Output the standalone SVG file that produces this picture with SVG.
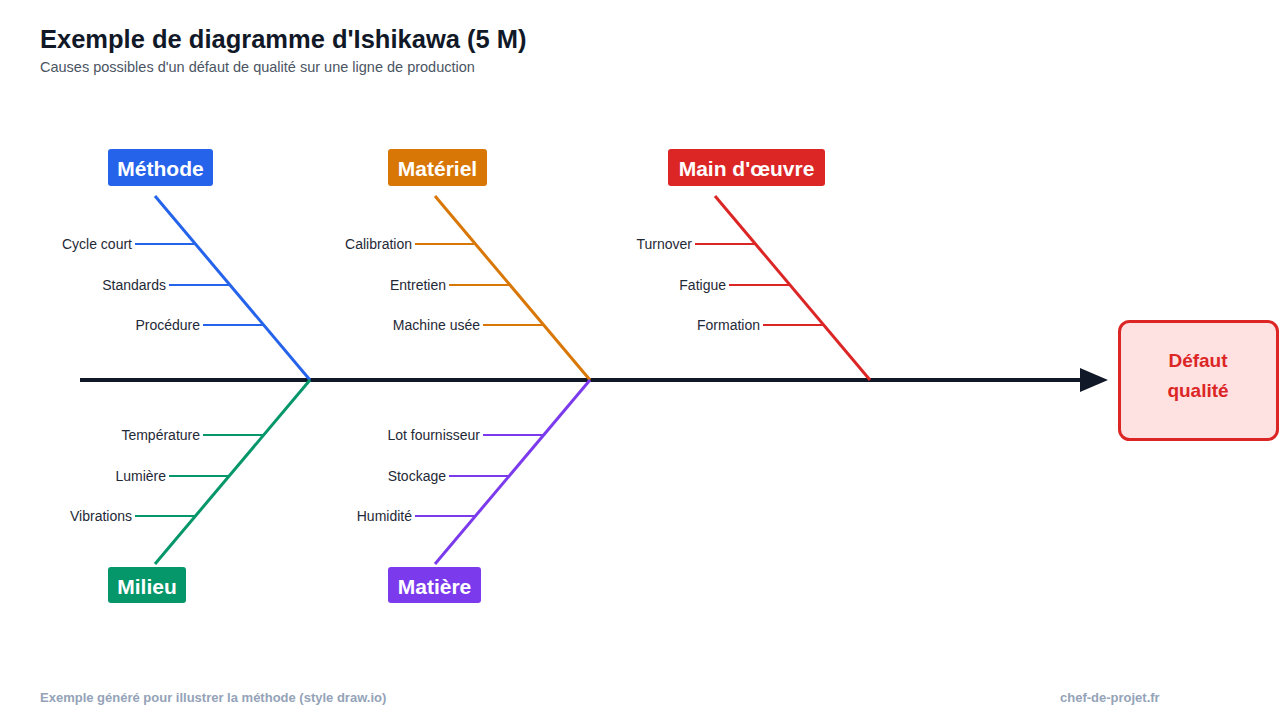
<svg xmlns="http://www.w3.org/2000/svg" width="1280" height="720" viewBox="0 0 1280 720">
<style>
text{font-family:"Liberation Sans",Arial,sans-serif}
.cat{font-size:21px;font-weight:bold;fill:#fff;text-anchor:middle}
.cause{font-size:14px;fill:#1f2937;text-anchor:end}
.bone{stroke-width:3;fill:none}
.tick{stroke-width:2}
</style>
<rect width="1280" height="720" fill="#fff"/>
<text x="40" y="48" font-size="25.5" font-weight="bold" fill="#111827">Exemple de diagramme d'Ishikawa (5 M)</text>
<text x="40" y="72" font-size="14.5" fill="#4b5563">Causes possibles d'un défaut de qualité sur une ligne de production</text>
<g id="connectors">
<line x1="80" y1="380" x2="1082" y2="380" stroke="#111827" stroke-width="4"/>
<polygon points="1080,368 1108,380 1080,392" fill="#111827"/>
<g stroke="#2563eb"><line class="bone" x1="155" y1="196" x2="310" y2="380"/><line class="tick" x1="135" y1="244" x2="195" y2="244"/><line class="tick" x1="169" y1="285" x2="230" y2="285"/><line class="tick" x1="203" y1="325" x2="264" y2="325"/></g>
<g stroke="#d97706"><line class="bone" x1="435" y1="196" x2="590" y2="380"/><line class="tick" x1="415" y1="244" x2="475" y2="244"/><line class="tick" x1="449" y1="285" x2="510" y2="285"/><line class="tick" x1="483" y1="325" x2="544" y2="325"/></g>
<g stroke="#dc2626"><line class="bone" x1="715" y1="196" x2="870" y2="380"/><line class="tick" x1="695" y1="244" x2="755" y2="244"/><line class="tick" x1="729" y1="285" x2="790" y2="285"/><line class="tick" x1="763" y1="325" x2="824" y2="325"/></g>
<g stroke="#059669"><line class="bone" x1="310" y1="380" x2="155" y2="564"/><line class="tick" x1="203" y1="435" x2="264" y2="435"/><line class="tick" x1="169" y1="476" x2="229" y2="476"/><line class="tick" x1="135" y1="516" x2="195" y2="516"/></g>
<g stroke="#7c3aed"><line class="bone" x1="590" y1="380" x2="435" y2="564"/><line class="tick" x1="483" y1="435" x2="544" y2="435"/><line class="tick" x1="449" y1="476" x2="509" y2="476"/><line class="tick" x1="415" y1="516" x2="475" y2="516"/></g>
</g>
<g id="causes">
<text class="cause" x="132" y="249">Cycle court</text>
<text class="cause" x="166" y="290">Standards</text>
<text class="cause" x="200" y="330">Procédure</text>
<text class="cause" x="412" y="249">Calibration</text>
<text class="cause" x="446" y="290">Entretien</text>
<text class="cause" x="480" y="330">Machine usée</text>
<text class="cause" x="692" y="249">Turnover</text>
<text class="cause" x="726" y="290">Fatigue</text>
<text class="cause" x="760" y="330">Formation</text>
<text class="cause" x="200" y="440">Température</text>
<text class="cause" x="166" y="481">Lumière</text>
<text class="cause" x="132" y="521">Vibrations</text>
<text class="cause" x="480" y="440">Lot fournisseur</text>
<text class="cause" x="446" y="481">Stockage</text>
<text class="cause" x="412" y="521">Humidité</text>
</g>
<g id="methode"><rect x="108" y="149" width="105" height="37" rx="3" fill="#2563eb"/><text class="cat" x="160.5" y="175.5">Méthode</text></g>
<g id="materiel"><rect x="388" y="149" width="99" height="37" rx="3" fill="#d97706"/><text class="cat" x="437.5" y="175.5">Matériel</text></g>
<g id="main"><rect x="668" y="149" width="157" height="37" rx="3" fill="#dc2626"/><text class="cat" x="746.5" y="175.5">Main d'œuvre</text></g>
<g id="milieu"><rect x="108" y="567" width="78" height="36" rx="3" fill="#059669"/><text class="cat" x="147" y="593.5">Milieu</text></g>
<g id="matiere"><rect x="388" y="567" width="93" height="36" rx="3" fill="#7c3aed"/><text class="cat" x="434.5" y="593.5">Matière</text></g>
<g id="effet"><rect x="1119.5" y="321.5" width="158" height="118" rx="10" fill="#fee2e2" stroke="#dc2626" stroke-width="3"/><text x="1198" y="367" font-size="19" font-weight="bold" fill="#dc2626" text-anchor="middle">Défaut</text><text x="1198" y="397" font-size="19" font-weight="bold" fill="#dc2626" text-anchor="middle">qualité</text></g>
<text x="40" y="702" font-size="13" font-weight="bold" fill="#94a3b8">Exemple généré pour illustrer la méthode (style draw.io)</text>
<text x="1060" y="702" font-size="13" font-weight="bold" fill="#94a3b8">chef-de-projet.fr</text>
</svg>
